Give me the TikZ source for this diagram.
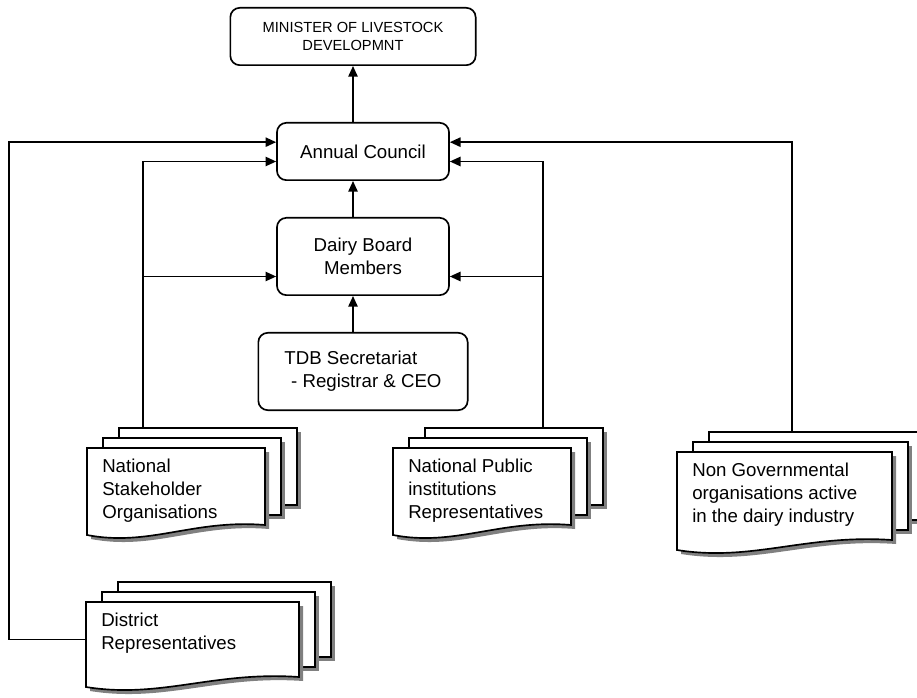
\documentclass[tikz,border=0pt]{standalone}
\usepackage{fontspec}
\setmainfont{Liberation Sans}
\usepackage{tikz}
\usetikzlibrary{positioning, arrows.meta}

% pila di documenti: nome, x, y, larghezza, altezza, testo
\newcommand{\docstack}[6]{%
  \begin{scope}[shift={(#2,#3)}]
    \foreach \d in {2,1}{%
      \fill[docshade] (16*\d+4,-10*\d+4) rectangle ++(#4,#5);
      \draw[docpage] (16*\d,-10*\d) rectangle ++(#4,#5);
    }
    \fill[docshade] (4,4) -- (#4+4,4) -- (#4+4,#5+4)
      .. controls (0.6*#4+4,#5-2) and (0.35*#4+4,#5+26) .. (4,#5+14) -- cycle;
    \draw[docpage] (0,0) -- (#4,0) -- (#4,#5)
      .. controls (0.6*#4,#5-6) and (0.35*#4,#5+22) .. (0,#5+10) -- cycle;
    \coordinate (#1-t) at (32,-20);
    \coordinate (#1-w) at (0,0.5*#5);
    % il testo viene tagliato come nell'originale
    \clip (0,0) rectangle (#4,#5-3);
    \node[doctext] (#1) at (15,11) {#6};
  \end{scope}
}

\begin{document}
\begin{tikzpicture}[
        x=0.75pt, y=-0.75pt,
        % riquadri arrotondati
        box/.style={
            draw,
            rounded corners=7pt,
            align=center,
            line width=1.25pt,
            fill=white,
            inner sep=0pt,
            font=\fontsize{14}{17}\selectfont
        },
        docpage/.style={draw, fill=white, line width=1.25pt},
        docshade/.style={fill=black!50},
        doctext/.style={anchor=north west, inner sep=0pt, align=left,
            font=\fontsize{14}{17}\selectfont},
        arr/.style={line width=1.25pt, -{Triangle[length=8pt,width=7pt]}},
    ]
    \useasboundingbox (0,0) rectangle (917,698);

    \node[box, minimum width=184pt, minimum height=43pt,
          font=\fontsize{11}{14}\selectfont] (mini) at (353,36.5)
          {MINISTER OF LIVESTOCK\\DEVELOPMNT};
    \node[box, minimum width=129pt, minimum height=43pt] (ann) at (363,151.5)
          {Annual Council};
    \node[box, minimum width=129pt, minimum height=58pt] (dbm) at (363,256.5)
          {Dairy Board\\Members};
    \node[box, align=left, minimum width=157pt, minimum height=58pt] (tdb) at (363,371.5)
          {TDB Secretariat\\\hspace*{5pt}- Registrar \& CEO};

    \docstack{nso}{87}{448}{178}{77}{National\\Stakeholder\\Organisations}
    \docstack{npi}{393}{448}{178}{77}{National Public\\institutions\\Representatives}
    \docstack{ngo}{677}{452}{215}{88}{Non Governmental\\organisations active\\in the dairy industry}
    \docstack{dr}{86}{602}{213}{75}{District\\Representatives}

    % punti di arrivo sui riquadri
    \coordinate (ann-l1) at ([yshift=7pt]ann.west);
    \coordinate (ann-l2) at ([yshift=-7.5pt]ann.west);
    \coordinate (ann-r1) at ([yshift=7pt]ann.east);
    \coordinate (ann-r2) at ([yshift=-7.5pt]ann.east);
    \coordinate (dbm-l) at ([yshift=-15pt]dbm.west);
    \coordinate (dbm-r) at ([yshift=-15pt]dbm.east);
    \coordinate (olk) at (9,0);
    \coordinate (slk) at (143,0);
    \coordinate (prk) at (543,0);
    \coordinate (ngk) at (792,0);

    % asse centrale
    \draw[arr] (ann.north -| mini.south) -- (mini.south);
    \draw[arr] (dbm.north -| mini.south) -- (ann.south -| mini.south);
    \draw[arr] (tdb.north -| mini.south) -- (dbm.south -| mini.south);

    % rami laterali
    \draw[arr] (nso-t -| slk) |- (ann-l2);
    \draw[arr] (dbm-l -| slk) -- (dbm-l);
    \draw[arr] (npi-t -| prk) |- (ann-r2);
    \draw[arr] (dbm-r -| prk) -- (dbm-r);
    \draw[arr] (ngo-t -| ngk) |- (ann-r1);
    \draw[arr] (dr-w) -| (olk |- ann-l1) -- (ann-l1);

\end{tikzpicture}
\end{document}
